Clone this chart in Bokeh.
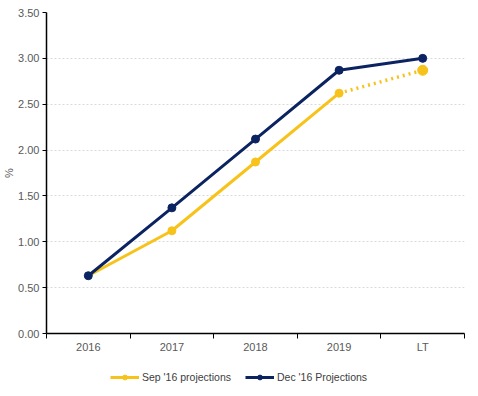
from bokeh.plotting import figure
from bokeh.layouts import column
from bokeh.models import (Range1d, FixedTicker, NumeralTickFormatter, Legend, LegendItem)
from bokeh.embed import file_html
from bokeh.resources import INLINE

categories = ["2016", "2017", "2018", "2019", "LT"]
sep_values = [0.63, 1.12, 1.87, 2.62, 2.87]
dec_values = [0.63, 1.37, 2.12, 2.87, 3.00]
y_ticks = [0.0, 0.5, 1.0, 1.5, 2.0, 2.5, 3.0, 3.5]
series_labels = ["Sep '16 projections", "Dec '16 Projections"]

YELLOW = "#F7C31A"
NAVY = "#0B2361"
FONT = "Liberation Sans"

xs = list(range(1, len(categories) + 1))

p = figure(frame_width=418, frame_height=321, output_backend="svg", toolbar_location=None,
           x_range=Range1d(0.5, len(categories) + 0.5), y_range=Range1d(0, 3.5),
           min_border_left=45, min_border_right=8, min_border_top=12, min_border_bottom=26)
p.outline_line_color = None

# Sep projections: solid to 2019, dotted to LT
p.line(xs[:4], sep_values[:4], line_color=YELLOW, line_width=3)
p.line(xs[3:], sep_values[3:], line_color=YELLOW, line_width=3.5, line_dash="2 4")
p.scatter(xs[1:4], sep_values[1:4], size=8, color=YELLOW)
p.scatter(xs[4:], sep_values[4:], size=10, color=YELLOW)

p.line(xs, dec_values, line_color=NAVY, line_width=3)
p.scatter(xs, dec_values, size=8, color=NAVY)

# axes
p.xaxis.ticker = FixedTicker(ticks=xs, minor_ticks=[x + 0.5 for x in [0] + xs])
p.xaxis.major_label_overrides = {x: c for x, c in zip(xs, categories)}
p.xaxis.major_tick_out = 0
p.xaxis.major_tick_in = 0
p.xaxis.minor_tick_out = 5
p.xaxis.minor_tick_in = 0
p.xaxis.major_label_standoff = 2

p.yaxis.ticker = FixedTicker(ticks=y_ticks)
p.yaxis.formatter = NumeralTickFormatter(format="0.00")
p.yaxis.major_tick_out = 4
p.yaxis.major_tick_in = 0
p.yaxis.minor_tick_out = 0
p.yaxis.minor_tick_in = 0
p.yaxis.major_label_standoff = 3
p.yaxis.axis_label = "%"
p.yaxis.axis_label_standoff = 0
p.yaxis.axis_label_text_font_style = "normal"

for ax in (p.xaxis, p.yaxis):
    ax.axis_line_color = "black"
    ax.axis_line_width = 1.5
    ax.major_tick_line_color = "black"
    ax.minor_tick_line_color = "black"
    ax.major_label_text_font = FONT
    ax.major_label_text_font_size = "11px"
    ax.major_label_text_color = "#595959"
    ax.axis_label_text_font = FONT
    ax.axis_label_text_font_size = "11px"
    ax.axis_label_text_color = "#595959"

p.xgrid.grid_line_color = None
p.ygrid.grid_line_color = "#D9D9D9"
p.ygrid.grid_line_dash = "2 2"
p.ygrid.ticker = FixedTicker(ticks=y_ticks[1:])

# legend strip below the chart (series drawn off-range; only the legend shows)
lg = figure(width=470, height=36, output_backend="svg", toolbar_location=None,
            x_range=Range1d(0, 0.5), y_range=Range1d(10, 11),
            min_border_left=0, min_border_right=0, min_border_top=0, min_border_bottom=0)
lg.axis.visible = False
lg.grid.visible = False
lg.outline_line_color = None
sep_l = lg.line(xs, sep_values, line_color=YELLOW, line_width=3)
sep_m = lg.scatter(xs, sep_values, size=8, color=YELLOW)
dec_l = lg.line(xs, dec_values, line_color=NAVY, line_width=3)
dec_m = lg.scatter(xs, dec_values, size=8, color=NAVY)

legend = Legend(items=[
    LegendItem(label=series_labels[0], renderers=[sep_l, sep_m]),
    LegendItem(label=series_labels[1], renderers=[dec_l, dec_m]),
], orientation="horizontal", location=(64, 12))
legend.label_text_font = FONT
legend.label_text_font_size = "10.5px"
legend.label_text_color = "#404040"
legend.border_line_color = None
legend.background_fill_alpha = 0
legend.glyph_width = 29
legend.glyph_height = 12
legend.label_height = 12
legend.spacing = 14
legend.label_standoff = 3
legend.margin = 0
legend.padding = 0
lg.add_layout(legend)

layout = column(p, lg, spacing=0)
open("out.html", "w").write(file_html(layout, INLINE))
